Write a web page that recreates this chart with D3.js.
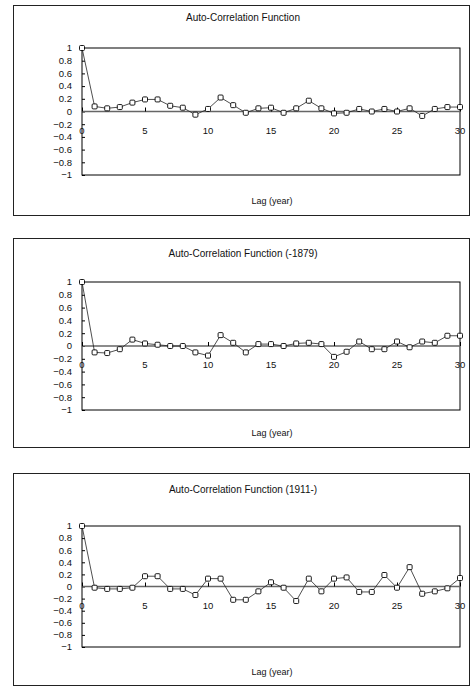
<!DOCTYPE html>
<html>
<head>
<meta charset="utf-8">
<script src="https://cdn.jsdelivr.net/npm/d3@7"></script>
<style>
  body { margin: 0; background: #fff; }
  svg { display: block; font-family: "Liberation Sans", Arial, sans-serif; }
  .frame { fill: none; stroke: #000; stroke-width: 1; }
  .outer { fill: none; stroke: #222; stroke-width: 1; }
  .zero { stroke: #666; stroke-width: 1.4; }
  .acf { fill: none; stroke: #222; stroke-width: 0.8; }
  .pt { fill: #fff; stroke: #000; stroke-width: 0.9; }
  .tick line { stroke: #000; }
  text { fill: #111; }
</style>
</head>
<body>
<div id="chart"></div>
<script>
"use strict"

// Auto-correlation of the series, lags 0..30
var lags = d3.range(0, 31)

var acfAll = [
  1, 0.08, 0.05, 0.07, 0.14, 0.19, 0.19, 0.09, 0.06, -0.05, 0.04,
  0.22, 0.10, -0.02, 0.05, 0.06, -0.02, 0.05, 0.17, 0.05, -0.03,
  -0.02, 0.04, 0.0, 0.04, 0.0, 0.05, -0.07, 0.04, 0.07, 0.07
]

var acfEarly = [
  1, -0.10, -0.11, -0.05, 0.10, 0.04, 0.02, 0.0, 0.0, -0.10, -0.15,
  0.17, 0.05, -0.10, 0.03, 0.03, 0.0, 0.04, 0.05, 0.03, -0.17,
  -0.09, 0.07, -0.05, -0.05, 0.07, -0.02, 0.07, 0.05, 0.16, 0.16
]

var acfLate = [
  1, -0.02, -0.04, -0.04, -0.02, 0.17, 0.17, -0.04, -0.04, -0.14, 0.13,
  0.13, -0.22, -0.22, -0.08, 0.07, -0.02, -0.24, 0.13, -0.08, 0.13,
  0.15, -0.09, -0.09, 0.19, -0.02, 0.32, -0.12, -0.08, -0.03, 0.14
]

var titles = [
  "Auto-Correlation Function",
  "Auto-Correlation Function (-1879)",
  "Auto-Correlation Function (1911-)"
]
var xLabel = "Lag (year)"
var xTicks = [0, 5, 10, 15, 20, 25, 30]
var yTicks = [1, 0.8, 0.6, 0.4, 0.2, 0, -0.2, -0.4, -0.6, -0.8, -1]

var width = 472
var height = 686

// panel layout (pixels)
var panels = [
  { top: 5,   title: 12, plotTop: 43, plotBottom: 170, label: 196, bottom: 210, data: acfAll },
  { top: 238, title: 15, plotTop: 44, plotBottom: 172, label: 195, bottom: 209, data: acfEarly },
  { top: 473, title: 16, plotTop: 53, plotBottom: 174, label: 199, bottom: 212, data: acfLate }
]

var svg = d3.select("#chart").append("svg")
  .attr("width", width)
  .attr("height", height)

function tickText(d) {
  if (d === 1) return "1"
  if (d === -1) return "\u22121"
  if (d === 0) return "0"
  return (d < 0 ? "\u2212" : "") + Math.abs(d).toFixed(1)
}

var x = d3.scaleLinear().domain([0, 30]).range([82, 460])

panels.forEach(function(p, i) {
  var g = svg.append("g").attr("transform", "translate(0," + p.top + ")")

  g.append("rect")
    .attr("class", "outer")
    .attr("x", 13.5).attr("y", 0.5)
    .attr("width", 456).attr("height", p.bottom)

  g.append("text")
    .attr("x", 243).attr("y", p.title)
    .attr("dy", "0.35em")
    .attr("text-anchor", "middle")
    .attr("font-size", 10)
    .text(titles[i])

  var y = d3.scaleLinear().domain([-1, 1]).range([p.plotBottom, p.plotTop])

  // plot frame
  g.append("rect")
    .attr("class", "frame")
    .attr("x", x(0)).attr("y", y(1))
    .attr("width", x(30) - x(0)).attr("height", y(-1) - y(1))

  // y axis: ticks inside, labels left
  var yAxis = g.append("g")
    .attr("transform", "translate(" + x(0) + ",0)")
    .call(d3.axisRight(y).tickValues(yTicks).tickSize(3).tickFormat(""))
  yAxis.select(".domain").remove()
  g.selectAll("text.ylab")
    .data(yTicks)
    .enter().append("text")
      .attr("class", "ylab")
      .attr("x", 72)
      .attr("y", function(d) { return y(d) })
      .attr("dy", "0.35em")
      .attr("text-anchor", "end")
      .attr("font-size", 9.5)
      .text(tickText)

  // zero line with x ticks and labels
  g.append("line")
    .attr("class", "zero")
    .attr("x1", x(0)).attr("x2", x(30))
    .attr("y1", y(0)).attr("y2", y(0))
  var xAxis = g.append("g")
    .attr("transform", "translate(0," + y(0) + ")")
    .call(d3.axisTop(x).tickValues(xTicks).tickSize(4).tickFormat(""))
  xAxis.select(".domain").remove()
  g.selectAll("text.xlab")
    .data(xTicks)
    .enter().append("text")
      .attr("class", "xlab")
      .attr("x", function(d) { return x(d) })
      .attr("y", y(0) + 19)
      .attr("dy", "0.35em")
      .attr("text-anchor", "middle")
      .attr("font-size", 9.5)
      .text(function(d) { return d })

  var pts = lags.map(function(l, k) { return { lag: l, value: p.data[k] } })

  var line = d3.line()
    .x(function(d) { return x(d.lag) })
    .y(function(d) { return y(d.value) })

  g.append("path")
    .datum(pts)
    .attr("class", "acf")
    .attr("d", line)

  g.selectAll("rect.pt")
    .data(pts)
    .enter().append("rect")
      .attr("class", "pt")
      .attr("x", function(d) { return x(d.lag) - 2.5 })
      .attr("y", function(d) { return y(d.value) - 2.5 })
      .attr("width", 5).attr("height", 5)
      .attr("rx", 1)

  g.append("text")
    .attr("x", 272).attr("y", p.label)
    .attr("dy", "0.35em")
    .attr("text-anchor", "middle")
    .attr("font-size", 9)
    .text(xLabel)
})
</script>
</body>
</html>
